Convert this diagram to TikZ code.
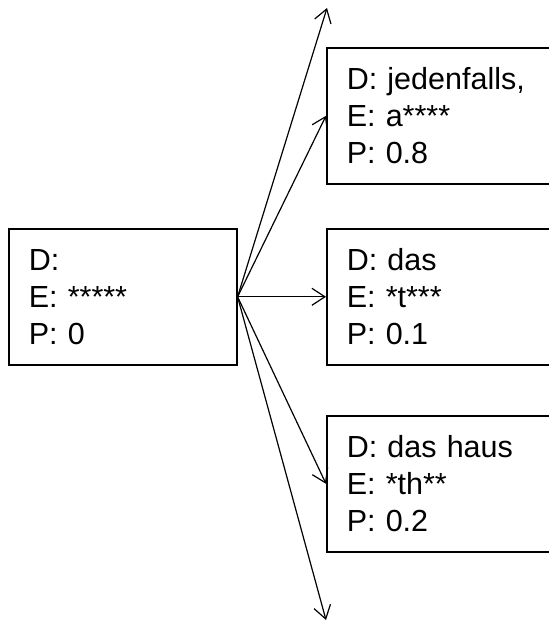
\documentclass[tikz,border=0pt]{standalone}
\usepackage{fontspec}
\setmainfont{Liberation Sans}
\usetikzlibrary{arrows.meta}
\begin{document}
\begin{tikzpicture}[x=1pt,y=-1pt,
  hyp/.style={draw,line width=1.6pt,rectangle,anchor=north west,
    inner xsep=20pt,inner ysep=0pt,minimum height=136pt,align=left,
    font=\fontsize{30.5}{37}\selectfont},
  arr/.style={line width=1.2pt,-{Straight Barb[length=13pt,width=17pt]}}]
  \useasboundingbox (0,0) rectangle (549,624);
  \clip (0,0) rectangle (549,624);
  % initial hypothesis
  \node[hyp,text width=188pt] (src) at (8,228) {D:\\E: *****\\P: 0};
  % expansions
  \node[hyp,text width=220pt] (h1) at (326,47) {D: jedenfalls,\\E: a****\\P: 0.8};
  \node[hyp,text width=220pt] (h2) at (326,228) {D: das\\E: *t***\\P: 0.1};
  \node[hyp,text width=220pt] (h3) at (326,415) {D: das haus\\E: *th**\\P: 0.2};
  \coordinate (up) at (327,8);
  \coordinate (down) at (326,620);
  \draw[arr] (src.east) -- (up);
  \draw[arr] (src.east) -- (h1.west);
  \draw[arr] (src.east) -- (h2.west);
  \draw[arr] (src.east) -- (h3.west);
  \draw[arr] (src.east) -- (down);
\end{tikzpicture}
\end{document}
